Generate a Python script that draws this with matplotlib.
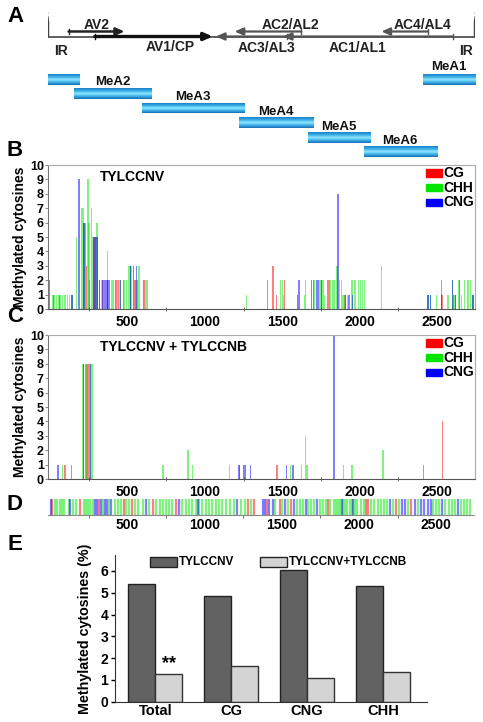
import numpy as np
import matplotlib
matplotlib.use("Agg")
import matplotlib.pyplot as plt
from matplotlib.colors import LinearSegmentedColormap
from matplotlib.patches import Rectangle

plt.rcParams['font.family'] = ['Liberation Sans', 'DejaVu Sans']
plt.rcParams['font.weight'] = 'bold'

# ---------------- data ----------------
GENOME_LEN = 2745
contexts = ["CG", "CHH", "CNG"]
ctx_colors = {"CG": "#ff0000", "CHH": "#00e600", "CNG": "#0000ff"}

# genome map (panel A)
gene_names = ["AV2", "AV1/CP", "AC3/AL3", "AC2/AL2", "AC1/AL1", "AC4/AL4"]
gene_start = [118, 287, 1527, 1622, 2602, 2440]
gene_end = [480, 1050, 1070, 1191, 1503, 2140]
gene_row = ["upper", "lower", "lower", "upper", "lower", "upper"]

amplicon_names = ["MeA1", "MeA2", "MeA3", "MeA4", "MeA5", "MeA6"]
amplicon_start = [2406, 151, 590, 1217, 1664, 2026]
amplicon_end = [2745, 655, 1250, 1696, 2071, 2498]
amplicon_wrap_end = 190  # MeA1 continues across the origin

# panel B: TYLCCNV
B_CG_pos = [226, 232, 255, 282, 290, 340, 425, 440, 475, 545, 605, 1403, 1439, 1460, 1515, 1795, 1805, 1900, 1935, 2528, 2534]
B_CG_val = [6, 3, 2, 5, 5, 2, 2, 2, 2, 2, 2, 2, 3, 1, 2, 2, 2, 1, 1, 2, 1]
B_CHH_pos = [12, 25, 38, 52, 66, 80, 95, 110, 125, 140, 168, 200, 211, 215, 222, 243, 250, 255, 265, 271, 301, 306,
             318, 330, 345, 372, 395, 405, 420, 435, 450, 480, 490, 505, 515, 520, 525, 560, 565, 573, 600, 615, 625,
             1267, 1490, 1502, 1508, 1644, 1650, 1710, 1740, 1750, 1762, 1773, 1810, 1827, 1838, 1849, 1855, 1870,
             1882, 1892, 1900, 1910, 1920, 1935, 1946, 1955, 1968, 1975, 1990, 2005, 2020, 2032, 2139,
             2441, 2455, 2495, 2571, 2599, 2615, 2636, 2660, 2678, 2700, 2715, 2732]
B_CHH_val = [1, 1, 1, 1, 1, 1, 1, 1, 1, 1, 5, 7, 7, 6, 6, 9, 6, 2, 7, 5, 6, 5,
             2, 2, 2, 4, 2, 2, 2, 2, 2, 2, 2, 3, 3, 3, 3, 2, 2, 3, 2, 2, 2,
             1, 2, 2, 1, 1, 2, 2, 2, 2, 2, 1, 2, 2, 2, 3, 3, 2,
             2, 1, 1, 1, 1, 1, 2, 2, 2, 2, 2, 2, 2, 2, 3,
             1, 1, 1, 1, 2, 1, 2, 1, 2, 2, 2, 1]
B_CNG_pos = [-8, 20, 60, 140, 185, 215, 222, 282, 290, 300, 306, 318, 335, 350, 358, 366, 372, 380, 455, 520, 538,
             550, 556, 1600, 1607, 1687, 1700, 1720, 1730, 1755, 1860, 1910, 1928, 1952, 2441, 2455, 2530, 2599,
             2608, 2620, 2645, 2732]
B_CNG_val = [2, 1, 1, 1, 9, 6, 6, 5, 5, 5, 5, 2, 2, 2, 2, 2, 2, 2, 2, 3, 3,
             2, 3, 1, 2, 2, 2, 2, 2, 2, 8, 1, 1, 1, 1, 1, 1, 2,
             1, 1, 2, 1]

# panel C: TYLCCNV + TYLCCNB
C_CG_pos = [95, 136, 225, 232, 240, 250, 1465, 2413, 2534]
C_CG_val = [1, 1, 8, 8, 8, 8, 1, 1, 4]
C_CHH_pos = [77, 210, 215, 232, 240, 258, 265, 272, 728, 890, 918, 1159, 1225, 1553, 1622, 1648, 1659, 1896, 1950, 2150]
C_CHH_val = [1, 8, 8, 8, 8, 8, 8, 8, 1, 2, 1, 1, 1, 1, 1, 3, 1, 1, 1, 2]
C_CNG_pos = [49, 215, 258, 1220, 1247, 1258, 1293, 1525, 1568, 1834]
C_CNG_val = [1, 8, 8, 1, 1, 1, 1, 1, 1, 10]

# panel D: cytosine sites along the genome
D_CG_pos = [10, 190, 315, 475, 530, 665, 815, 1280, 1320, 1405, 1485, 1560, 1800, 2045, 2060, 2240, 2340]
D_CHH_pos = [30, 45, 60, 75, 90, 120, 150, 165, 215, 230, 245, 260, 275, 340, 380, 420, 440, 460, 490, 510, 550,
             570, 600, 640, 685, 710, 730, 750, 770, 790, 855, 880, 900, 920, 945, 965, 985, 1010, 1030, 1050,
             1075, 1095, 1115, 1135, 1165, 1190, 1235, 1260, 1300, 1455, 1500, 1540, 1600, 1620, 1640, 1670,
             1690, 1710, 1745, 1765, 1785, 1815, 1835, 1850, 1865, 1880, 1895, 1910, 1925, 1940, 1955, 1975,
             1990, 2010, 2030, 2080, 2100, 2120, 2140, 2160, 2180, 2220, 2260, 2320, 2380, 2480, 2500, 2520,
             2560, 2580, 2600, 2620, 2660, 2680, 2700, 2720]
D_CNG_pos = [5, 130, 290, 305, 330, 355, 370, 395, 620, 835, 960, 1210, 1375, 1390, 1420, 1440, 1520, 1580, 1655,
             1725, 1890, 1960, 2200, 2280, 2300, 2360, 2400, 2420, 2450, 2465, 2540, 2640]

# panel E
E_categories = ["Total", "CG", "CNG", "CHH"]
E_series = ["TYLCCNV", "TYLCCNV+TYLCCNB"]
E_tylccnv = [5.4, 4.85, 6.02, 5.32]
E_tylccnv_b = [1.25, 1.62, 1.1, 1.35]

# ---------------- layout helpers ----------------
W, H = 483, 722
fig = plt.figure(figsize=(W / 100, H / 100), dpi=100)


def rect(left, top, right, bottom):
    return [left / W, 1 - bottom / H, (right - left) / W, (bottom - top) / H]


XLIM = (-15, GENOME_LEN)

for lab, (px, py) in zip("ABCDE", [(15, 17), (15, 151), (15, 317), (15, 505), (15, 545)]):
    fig.text(px / W, 1 - py / H, lab, fontsize=16, fontweight='bold', ha='center', va='center')

# ---------------- panel A ----------------
axA = fig.add_axes(rect(48, 0, 475, 165))
axA.set_axis_off()
row_y = {"upper": 31.5, "lower": 36.5}
axA.plot([XLIM[0], XLIM[1]], [36.5, 36.5], color='#444444', lw=1.2, solid_capstyle='butt')
# IR hooks
xl, xr = XLIM[0] + 3, XLIM[1] - 3
axA.plot([xl, xl, xl - 4, xl - 10, xl - 6], [36.5, 22, 17, 15, 13], color='#444444', lw=1.1)
axA.plot([xr, xr, xr + 4, xr + 10, xr + 6], [36.5, 22, 17, 15, 13], color='#444444', lw=1.1)
for name, s, e, r in zip(gene_names, gene_start, gene_end, gene_row):
    y = row_y[r]
    if name == "AV1/CP":
        col, lw = '#111111', 2.4
    elif name == "AV2":
        col, lw = '#222222', 1.8
    else:
        col, lw = '#555555', 1.6
    axA.annotate('', xy=(e, y), xytext=(s, y),
                 arrowprops=dict(arrowstyle='-|>,head_length=0.5,head_width=0.22', lw=lw, color=col,
                                 shrinkA=0, shrinkB=0))
    axA.plot([s, s], [y - 2.5, y + 2.5], color=col, lw=1.0)
gene_label_pos = {"AV2": (97, 25), "AV1/CP": (170, 47), "AC2/AL2": (290, 25), "AC3/AL3": (267, 48),
                  "AC1/AL1": (358, 48), "AC4/AL4": (423, 25)}


def px2g(px):
    return XLIM[0] + (px - 48) / (475 - 48) * (XLIM[1] - XLIM[0])


for name in gene_names:
    px, py = gene_label_pos[name]
    axA.text(px2g(px), py, name, fontsize=10, fontweight='bold', color='#222222', ha='center', va='center')
axA.text(px2g(61), 51, "IR", fontsize=10, fontweight='bold', color='#222222', ha='center', va='center')
axA.text(px2g(466), 51, "IR", fontsize=10, fontweight='bold', color='#222222', ha='center', va='center')

cmap_bar = LinearSegmentedColormap.from_list('bar', ['#1f80c8', '#36aee6', '#92e8ff', '#3cb0e8', '#1a6db5'])
grad = np.linspace(0, 1, 40).reshape(-1, 1)
amp_y = [(74, 85), (88, 99), (103, 113), (117, 128), (132, 143), (146, 157)]
amp_label_y = [67, 82, 97, 112, 127, 141]
for name, s, e, (yt, yb), ly in zip(amplicon_names, amplicon_start, amplicon_end, amp_y, amp_label_y):
    axA.imshow(grad, extent=[s, e, yb, yt], aspect='auto', cmap=cmap_bar, interpolation='bilinear')
    lx = (s + e) / 2
    axA.text(lx, ly, name, fontsize=9.5, fontweight='bold', color='#111111', ha='center', va='center')
axA.imshow(grad, extent=[XLIM[0], amplicon_wrap_end, amp_y[0][1], amp_y[0][0]], aspect='auto',
           cmap=cmap_bar, interpolation='bilinear')
axA.set_xlim(XLIM)
axA.set_ylim(165, 0)


# ---------------- panels B and C ----------------
def methyl_panel(ax, title, data, title_x):
    for ctx in contexts:
        pos, val = data[ctx]
        ax.bar(pos, val, width=8, color=ctx_colors[ctx], alpha=0.5, linewidth=0, antialiased=False)
    ax.set_xlim(XLIM)
    ax.set_ylim(0, 10)
    ax.set_yticks(range(0, 11))
    ax.set_xticks([500, 1000, 1500, 2000, 2500])
    ax.set_xticks([250, 750, 1250, 1750, 2250], minor=True)
    ax.tick_params(axis='x', which='major', length=0, pad=4, labelsize=10)
    ax.tick_params(axis='x', which='minor', length=3, direction='inout', width=0.6, color='#555555')
    ax.tick_params(axis='y', length=2, width=0.6, pad=1, labelsize=9, color='#777777')
    for lbl in ax.get_xticklabels() + ax.get_yticklabels():
        lbl.set_fontweight('bold')
    for sp in ['top', 'right']:
        ax.spines[sp].set_color('#aaaaaa')
    ax.spines['left'].set_color('#777777')
    ax.spines['bottom'].set_color('#555555')
    ax.set_ylabel("Methylated cytosines", fontsize=10, fontweight='bold', labelpad=2)
    ax.text(title_x, 0.915, title, transform=ax.transAxes, fontsize=10, fontweight='bold', va='center')
    for i, (ctx, yc) in enumerate(zip(["CG", "CHH", "CNG"], [0.944, 0.842, 0.740])):
        ax.add_patch(Rectangle((0.885, yc - 0.025), 0.0375, 0.05, transform=ax.transAxes,
                               color=ctx_colors[ctx], clip_on=False))
        ax.text(0.926, yc, ctx, transform=ax.transAxes, fontsize=10, fontweight='bold', va='center')


axB = fig.add_axes(rect(48, 165, 475, 309))
methyl_panel(axB, "TYLCCNV", {"CG": (B_CG_pos, B_CG_val), "CHH": (B_CHH_pos, B_CHH_val),
                               "CNG": (B_CNG_pos, B_CNG_val)}, 0.122)
axC = fig.add_axes(rect(48, 335, 475, 479))
methyl_panel(axC, "TYLCCNV + TYLCCNB", {"CG": (C_CG_pos, C_CG_val), "CHH": (C_CHH_pos, C_CHH_val),
                                         "CNG": (C_CNG_pos, C_CNG_val)}, 0.122)

# ---------------- panel D ----------------
axD = fig.add_axes(rect(48, 499, 474, 515))
for ctx, pos in zip(contexts, [D_CG_pos, D_CHH_pos, D_CNG_pos]):
    axD.vlines(pos, 0, 1, colors=ctx_colors[ctx], alpha=0.5, linewidth=1.6)
axD.set_xlim(XLIM)
axD.set_ylim(0, 1)
axD.set_yticks([])
for sp in ['top', 'right', 'left']:
    axD.spines[sp].set_visible(False)
axD.spines['bottom'].set_color('#888888')
axD.set_xticks([500, 1000, 1500, 2000, 2500])
axD.set_xticks([250, 750, 1250, 1750, 2250], minor=True)
axD.tick_params(axis='x', which='major', length=0, pad=2, labelsize=10)
axD.tick_params(axis='x', which='minor', length=2, width=0.6, color='#555555')
for lbl in axD.get_xticklabels():
    lbl.set_fontweight('bold')

# ---------------- panel E ----------------
axE = fig.add_axes(rect(115, 555, 427, 701.7))
x = np.arange(len(E_categories))
bw = 0.355
axE.bar(x - bw / 2, E_tylccnv, width=bw, color='#626262', edgecolor='#222222', linewidth=1.0)
axE.bar(x + bw / 2, E_tylccnv_b, width=bw, color='#d4d4d4', edgecolor='#333333', linewidth=1.0)
axE.text(x[0] + bw / 2, E_tylccnv_b[0] + 0.12, "**", ha='center', va='bottom', fontsize=13, fontweight='bold')
axE.set_xlim(-0.53, 3.58)
axE.set_ylim(0, 6.73)
axE.set_yticks(range(0, 7))
axE.set_xticks(x)
axE.set_xticklabels(E_categories)
axE.tick_params(axis='x', length=0, pad=2, labelsize=10.5)
axE.tick_params(axis='y', length=3, width=1, pad=2, labelsize=10)
for lbl in axE.get_xticklabels() + axE.get_yticklabels():
    lbl.set_fontweight('bold')
axE.spines['top'].set_visible(False)
axE.spines['right'].set_visible(False)
axE.spines['left'].set_color('#333333')
axE.spines['bottom'].set_color('#333333')
axE.set_ylabel("Methylated cytosines (%)", fontsize=10.3, fontweight='bold', labelpad=6)
# legend
for (bx, col, name) in [(-0.066, '#626262', E_series[0]), (1.38, '#d4d4d4', E_series[1])]:
    axE.add_patch(Rectangle((bx, 6.18), 0.355, 0.46, facecolor=col, edgecolor='#222222', linewidth=1.0,
                            clip_on=False))
    axE.text(bx + 0.38, 6.41, name, fontsize=8.5, fontweight='bold', va='center')

fig.savefig("out.png", dpi=100)
